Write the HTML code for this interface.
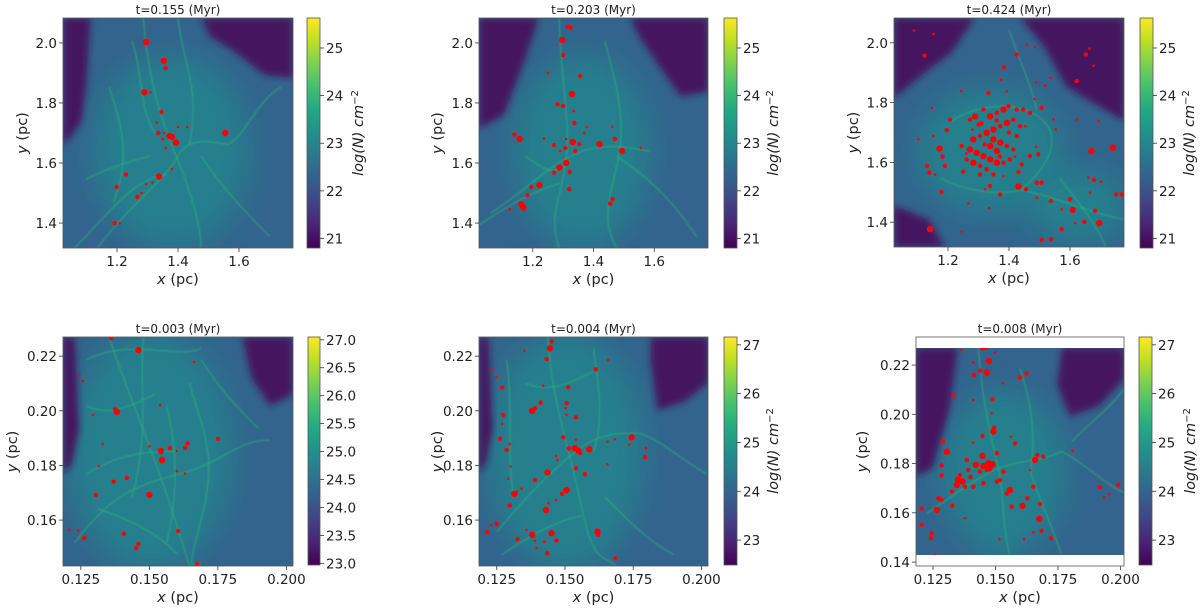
<!DOCTYPE html>
<html><head><meta charset="utf-8">
<style>
html,body{margin:0;padding:0;background:#fff;}
svg{display:block;font-family:"DejaVu Sans","Liberation Sans",sans-serif;}
</style></head>
<body>
<svg id="fig" width="1200" height="611" viewBox="0 0 1200 611" xmlns="http://www.w3.org/2000/svg">
<defs>
<linearGradient id="viridis" x1="0" y1="1" x2="0" y2="0">
<stop offset="0" stop-color="#440154"/><stop offset="0.1" stop-color="#482475"/><stop offset="0.2" stop-color="#414487"/><stop offset="0.3" stop-color="#355f8d"/><stop offset="0.4" stop-color="#2a788e"/><stop offset="0.5" stop-color="#21918c"/><stop offset="0.6" stop-color="#22a884"/><stop offset="0.7" stop-color="#44bf70"/><stop offset="0.8" stop-color="#7ad151"/><stop offset="0.9" stop-color="#bddf26"/><stop offset="1" stop-color="#fde725"/>
</linearGradient>
<filter id="blurBig" x="-30%" y="-30%" width="160%" height="160%"><feGaussianBlur stdDeviation="14"/></filter>
<filter id="blurMid" x="-30%" y="-30%" width="160%" height="160%"><feGaussianBlur stdDeviation="3.5"/></filter>
<filter id="blurSm"><feGaussianBlur stdDeviation="0.7"/></filter>
</defs>
</svg>
<script>
// ---------- DATA ----------
const p1XTicks=[1.2,1.4,1.6];
const p1YTicks=[1.4,1.6,1.8,2.0];
const p1CbTicks=[21,22,23,24,25];
const p1Dots=[[1.295,2.003,3],[1.353,1.94,3],[1.359,1.916,2],[1.29,1.836,3],[1.31,1.836,1],[1.346,1.77,2],[1.335,1.70,2],[1.38,1.687,3],[1.372,1.690,3],[1.393,1.668,3],[1.555,1.70,3],[1.23,1.562,2],[1.199,1.52,2],[1.267,1.487,2],[1.338,1.555,3],[1.295,1.53,1],[1.192,1.40,2],[1.36,1.65,1],[1.40,1.72,1],[1.43,1.72,1],[1.38,1.58,1],[1.316,1.535,1],[1.355,1.70,1],[1.35,1.68,1],[1.33,1.735,1],[1.28,1.50,1],[1.21,1.40,1]];
const p2Dots=[[1.316,2.054,2],[1.325,2.05,2],[1.297,2.01,3],[1.3,1.96,2],[1.356,1.89,2],[1.329,1.83,3],[1.3,1.79,2],[1.281,1.796,2],[1.335,1.773,1],[1.337,1.733,2],[1.378,1.72,1],[1.462,1.72,1],[1.14,1.695,2],[1.157,1.68,3],[1.237,1.682,1],[1.332,1.67,3],[1.353,1.663,2],[1.307,1.65,2],[1.27,1.66,2],[1.42,1.663,3],[1.47,1.68,2],[1.494,1.64,3],[1.556,1.65,1],[1.31,1.60,3],[1.288,1.585,3],[1.27,1.568,2],[1.322,1.57,2],[1.222,1.526,3],[1.195,1.52,2],[1.182,1.493,2],[1.162,1.463,3],[1.17,1.452,3],[1.463,1.48,2],[1.455,1.465,2],[1.32,1.513,2],[1.125,1.447,1],[1.29,1.64,1],[1.34,1.64,2],[1.31,1.68,1],[1.37,1.70,1],[1.25,1.90,1]];
const p3Dots=[[1.089,2.041,1],[1.152,2.029,1],[1.123,1.957,2],[1.425,1.961,2],[1.384,1.918,2],[1.458,1.994,1],[1.485,1.986,1],[1.664,1.981,1],[1.652,1.961,2],[1.677,1.923,1],[1.622,1.872,2],[1.374,1.877,1],[1.489,1.868,1],[1.518,1.857,1],[1.537,1.882,1],[1.332,1.832,2],[1.244,1.838,1],[1.393,1.838,1],[1.483,1.812,1],[1.147,1.782,1],[1.207,1.743,2],[1.196,1.708,2],[1.172,1.646,3],[1.182,1.619,2],[1.190,1.588,2],[1.132,1.588,2],[1.139,1.566,2],[1.158,1.560,1],[1.179,1.501,2],[1.103,1.677,1],[1.152,1.688,1],[1.272,1.743,2],[1.289,1.754,3],[1.300,1.727,2],[1.316,1.777,2],[1.338,1.754,3],[1.360,1.766,2],[1.382,1.777,3],[1.398,1.788,2],[1.425,1.777,2],[1.447,1.777,2],[1.469,1.766,2],[1.507,1.782,2],[1.283,1.677,3],[1.305,1.688,2],[1.327,1.699,3],[1.349,1.710,3],[1.371,1.721,2],[1.393,1.732,3],[1.414,1.743,2],[1.436,1.721,2],[1.453,1.721,1],[1.245,1.655,2],[1.272,1.643,3],[1.294,1.632,3],[1.316,1.621,3],[1.338,1.610,3],[1.360,1.599,3],[1.382,1.599,2],[1.403,1.610,2],[1.261,1.610,2],[1.283,1.599,3],[1.305,1.588,2],[1.327,1.577,2],[1.349,1.677,3],[1.371,1.666,3],[1.393,1.655,2],[1.414,1.643,2],[1.425,1.688,2],[1.360,1.638,3],[1.338,1.655,3],[1.305,1.560,2],[1.250,1.569,2],[1.349,1.560,2],[1.382,1.554,1],[1.431,1.568,2],[1.442,1.593,2],[1.469,1.621,2],[1.496,1.627,2],[1.546,1.743,1],[1.553,1.710,1],[1.489,1.652,1],[1.740,1.649,3],[1.670,1.638,3],[1.693,1.738,1],[1.622,1.743,1],[1.491,1.532,2],[1.507,1.532,2],[1.431,1.519,3],[1.456,1.510,2],[1.338,1.521,2],[1.322,1.510,1],[1.371,1.493,2],[1.491,1.482,1],[1.537,1.471,2],[1.600,1.477,2],[1.609,1.441,3],[1.573,1.443,1],[1.660,1.549,1],[1.679,1.541,2],[1.701,1.535,1],[1.666,1.499,1],[1.682,1.438,2],[1.696,1.397,3],[1.647,1.401,2],[1.617,1.397,1],[1.751,1.493,2],[1.770,1.493,2],[1.573,1.377,2],[1.538,1.343,2],[1.507,1.341,2],[1.141,1.377,3],[1.267,1.463,1],[1.335,1.447,1],[1.245,1.369,1],[1.31,1.73,2],[1.36,1.74,2],[1.40,1.70,2],[1.28,1.71,1],[1.32,1.66,2],[1.42,1.62,1],[1.26,1.63,1],[1.37,1.62,2]];
const p4XTicks=[0.125,0.150,0.175,0.200];
const p4YTicks=[0.16,0.18,0.20,0.22];
const p4CbTicks=[23.0,23.5,24.0,24.5,25.0,25.5,26.0,26.5,27.0];
const p4Dots=[[0.136,0.2266,2],[0.146,0.2222,3],[0.1382,0.1996,3],[0.1375,0.2005,2],[0.1542,0.1853,3],[0.1546,0.182,3],[0.150,0.187,1],[0.1575,0.1864,2],[0.160,0.1853,1],[0.163,0.1864,2],[0.164,0.188,2],[0.175,0.1897,2],[0.16,0.178,1],[0.163,0.177,1],[0.1418,0.1754,2],[0.137,0.174,2],[0.1305,0.1692,2],[0.15,0.1692,3],[0.1407,0.155,2],[0.146,0.1513,2],[0.1452,0.1497,2],[0.1605,0.156,2],[0.1262,0.1534,2],[0.1675,0.1439,2],[0.133,0.1878,1],[0.1316,0.1798,1],[0.1243,0.213,1],[0.1258,0.2109,1],[0.1663,0.2179,1],[0.1539,0.2021,1],[0.1295,0.1985,1],[0.1207,0.1565,1],[0.124,0.1561,1]];
const p5XTicks=[0.125,0.150,0.175,0.200];
const p5YTicks=[0.16,0.18,0.20,0.22];
const p5CbTicks=[23,24,25,26,27];
const p5Dots=[[0.1445,0.2229,3],[0.1451,0.2253,2],[0.1433,0.2189,2],[0.1351,0.2220,1],[0.1231,0.2150,1],[0.1250,0.2123,1],[0.1270,0.2085,2],[0.1420,0.2091,1],[0.1512,0.2086,2],[0.1613,0.2152,2],[0.1658,0.2186,1],[0.1411,0.2030,2],[0.1390,0.2009,2],[0.1380,0.2000,3],[0.1506,0.2028,2],[0.1502,0.2009,1],[0.1540,0.1976,2],[0.1506,0.1985,1],[0.1274,0.1985,2],[0.1270,0.1952,1],[0.1262,0.1898,2],[0.1298,0.1878,1],[0.1286,0.1857,2],[0.1494,0.1903,2],[0.1540,0.1893,1],[0.1536,0.1863,3],[0.1549,0.1854,3],[0.1514,0.1862,2],[0.1589,0.1859,3],[0.1555,0.1845,2],[0.1744,0.1903,3],[0.1735,0.1876,1],[0.1656,0.1887,1],[0.1683,0.1896,1],[0.1793,0.1830,2],[0.1796,0.1863,1],[0.1467,0.1835,1],[0.1472,0.1820,1],[0.1540,0.1790,2],[0.1573,0.1768,2],[0.1655,0.1804,1],[0.1436,0.1774,3],[0.1390,0.1747,2],[0.1292,0.1751,1],[0.1301,0.1796,1],[0.1506,0.1710,3],[0.1489,0.1696,2],[0.1467,0.1674,1],[0.1341,0.1715,1],[0.1323,0.1704,1],[0.1314,0.1696,3],[0.1298,0.1653,2],[0.1430,0.1637,3],[0.1439,0.1662,1],[0.1229,0.1582,1],[0.1250,0.1586,2],[0.1215,0.1556,2],[0.1326,0.1531,2],[0.1380,0.1546,3],[0.1451,0.1552,3],[0.1390,0.1524,1],[0.1425,0.1521,1],[0.1469,0.1525,2],[0.1396,0.1497,1],[0.1435,0.1479,2],[0.1619,0.1558,3],[0.1622,0.1546,2],[0.1685,0.1460,2],[0.1359,0.1564,1]];
const p6XTicks=[0.125,0.150,0.175,0.200];
const p6YTicks=[0.14,0.16,0.18,0.20,0.22];
const p6CbTicks=[23,24,25,26,27];
const p6Dots=[[0.1445,0.2268,2],[0.1461,0.2271,2],[0.1474,0.2216,3],[0.1465,0.2170,3],[0.1414,0.2160,2],[0.1438,0.2177,2],[0.1498,0.2252,1],[0.1365,0.2261,1],[0.1411,0.2210,1],[0.1598,0.2149,2],[0.1624,0.2166,2],[0.1531,0.2126,1],[0.1331,0.2078,2],[0.1411,0.2058,1],[0.1488,0.2061,2],[0.1484,0.2004,1],[0.1448,0.1912,2],[0.1491,0.1930,3],[0.1495,0.1946,2],[0.1562,0.1909,1],[0.1578,0.1882,2],[0.1411,0.1885,1],[0.1289,0.1889,2],[0.1305,0.1848,3],[0.1448,0.1831,3],[0.1471,0.1801,3],[0.1488,0.1797,3],[0.1451,0.1790,3],[0.1438,0.1767,2],[0.1505,0.1842,2],[0.1391,0.1774,2],[0.1358,0.1754,2],[0.1368,0.1727,3],[0.1345,0.1713,3],[0.1378,0.1706,2],[0.1325,0.1686,2],[0.1284,0.1792,2],[0.1284,0.1751,2],[0.1271,0.1659,2],[0.1284,0.1652,2],[0.1265,0.1612,3],[0.1205,0.1618,2],[0.1205,0.1551,2],[0.1245,0.1517,2],[0.1242,0.1497,2],[0.1258,0.1429,1],[0.1451,0.1720,2],[0.1505,0.1727,2],[0.1518,0.1733,2],[0.1558,0.1693,3],[0.1465,0.1774,2],[0.1411,0.1706,2],[0.1531,0.1767,2],[0.1565,0.1625,2],[0.1608,0.1628,3],[0.1627,0.1659,2],[0.1658,0.1815,3],[0.1667,0.1835,2],[0.1691,0.1828,2],[0.1638,0.1774,1],[0.1651,0.1706,2],[0.1678,0.1636,2],[0.1675,0.1575,3],[0.1684,0.1527,2],[0.1722,0.1497,2],[0.1651,0.1521,1],[0.1614,0.1493,1],[0.1515,0.1493,1],[0.1808,0.1851,1],[0.1918,0.1704,2],[0.1934,0.1662,1],[0.1955,0.1675,1],[0.1991,0.1713,2],[0.1545,0.1679,2],[0.1385,0.1815,2],[0.1327,0.1629,2],[0.1378,0.1578,1],[0.1421,0.1795,3],[0.1475,0.1780,3],[0.1400,0.1745,2],[0.1350,0.1735,3]];
const titles=["t=0.155 (Myr)","t=0.203 (Myr)","t=0.424 (Myr)","t=0.003 (Myr)","t=0.004 (Myr)","t=0.008 (Myr)"];

// ---------- LAYOUT (style only) ----------
const panels=[
 {id:"p1",L:63,T:18,W:230,H:230,x0:1.023,x1:1.777,y0:1.317,y1:2.083,dT:18,dB:248,xt:p1XTicks,yt:p1YTicks,xf:1,yf:1,cb:{L:307,T:18,W:13,H:230,v0:20.8,v1:25.63,ticks:p1CbTicks,f:0,lab:true,labX:356},dots:p1Dots,yLabX:22,
  dark:[[[0,0],[0.12,0],[0.1,0.3],[0.08,0.45],[0.03,0.52],[0,0.55]],[[0.6,0],[1,0],[1,0.26],[0.88,0.25],[0.75,0.15],[0.64,0.08]]],
  mid:[[0.47,0.58,0.34,0.42]],
  fil:["M0.35,0 C0.37,0.3 0.45,0.5 0.5,0.62 S0.6,0.9 0.6,1","M0.15,1 C0.3,0.8 0.45,0.7 0.5,0.6 S0.7,0.55 0.72,0.55","M0.72,0.55 C0.8,0.5 0.85,0.35 0.95,0.3","M0.2,0.3 C0.25,0.45 0.3,0.6 0.22,0.8","M0.5,0 C0.52,0.2 0.6,0.3 0.55,0.55","M0.05,1 C0.2,0.85 0.3,0.7 0.45,0.68","M0.6,0.6 C0.7,0.75 0.8,0.85 0.9,0.95","M0.3,0.1 C0.35,0.25 0.33,0.4 0.4,0.5","M0.1,0.7 C0.2,0.65 0.3,0.62 0.38,0.6"]},
 {id:"p2",L:479,T:18,W:229,H:230,x0:1.023,x1:1.777,y0:1.317,y1:2.083,dT:18,dB:248,xt:p1XTicks,yt:p1YTicks,xf:1,yf:1,cb:{L:724,T:18,W:13,H:230,v0:20.8,v1:25.63,ticks:p1CbTicks,f:0,lab:true,labX:771},dots:p2Dots,yLabX:437,
  dark:[[[0,0],[0.26,0],[0.2,0.18],[0.11,0.42],[0,0.48]],[[0.66,0],[1,0],[1,0.32],[0.88,0.34],[0.78,0.2],[0.7,0.08]]],
  mid:[[0.45,0.58,0.3,0.42]],
  fil:["M0.35,0 C0.36,0.3 0.4,0.45 0.38,0.62 S0.3,0.85 0.35,1","M0.05,0.85 C0.2,0.75 0.3,0.65 0.4,0.6 S0.6,0.55 0.75,0.58","M0.55,0.1 C0.6,0.3 0.65,0.45 0.6,0.65 S0.55,0.9 0.6,1","M0.0,0.9 C0.15,0.8 0.25,0.75 0.35,0.72","M0.6,0.6 C0.75,0.7 0.85,0.8 0.95,0.95","M0.2,0.6 C0.28,0.65 0.32,0.7 0.4,0.62"]},
 {id:"p3",L:894,T:18,W:230,H:229,x0:1.023,x1:1.777,y0:1.317,y1:2.083,dT:18,dB:247,xt:p1XTicks,yt:p1YTicks,xf:1,yf:1,cb:{L:1140,T:18,W:13,H:230,v0:20.8,v1:25.63,ticks:p1CbTicks,f:0,lab:true,labX:1187},dots:p3Dots,yLabX:853,
  dark:[[[0.55,0],[1,0],[1,0.45],[0.88,0.38],[0.75,0.3],[0.65,0.12]],[[0,0],[0.35,0],[0.25,0.15],[0.12,0.25],[0,0.35]],[[0,0.82],[0.15,0.88],[0.22,1],[0,1]]],
  mid:[[0.42,0.58,0.32,0.28],[0.8,0.82,0.22,0.16]],
  fil:["M0.25,0.45 C0.35,0.38 0.55,0.35 0.65,0.45 S0.62,0.7 0.55,0.75","M0.55,0.75 C0.7,0.78 0.85,0.85 1,0.88","M0.5,0.05 C0.55,0.2 0.6,0.3 0.62,0.4","M0.2,0.7 C0.3,0.75 0.45,0.78 0.55,0.75","M0.72,0.7 C0.8,0.8 0.88,0.9 0.92,1"]},
 {id:"p4",L:63,T:337,W:230,H:229,x0:0.1185,x1:0.2024,y0:0.1432,y1:0.227,dT:337,dB:566,xt:p4XTicks,yt:p4YTicks,xf:3,yf:2,cb:{L:308,T:337,W:12,H:228,v0:22.97,v1:27.05,ticks:p4CbTicks,f:1,lab:false},dots:p4Dots,yLabX:12,
  dark:[[[0.78,0],[1,0],[1,0.25],[0.9,0.3],[0.82,0.18]],[[0,0],[0.05,0],[0.07,0.4],[0.04,0.55],[0,0.6]]],
  mid:[[0.38,0.5,0.36,0.52]],
  fil:["M0.1,0.1 C0.3,0.0 0.5,0.1 0.6,0.05","M0.2,0 C0.3,0.3 0.4,0.5 0.55,1","M0.05,0.9 C0.2,0.7 0.3,0.65 0.5,0.6 S0.75,0.45 0.9,0.45","M0.35,0 C0.33,0.2 0.38,0.4 0.3,0.7","M0.55,0.2 C0.6,0.4 0.68,0.5 0.6,0.8 S0.58,0.95 0.6,1","M0.1,0.6 C0.25,0.5 0.4,0.5 0.5,0.5","M0.6,0.1 C0.7,0.25 0.75,0.3 0.85,0.4","M0.1,0.3 C0.2,0.35 0.3,0.3 0.4,0.25","M0.45,0.3 C0.5,0.5 0.5,0.7 0.45,0.9","M0.15,0.75 C0.3,0.8 0.4,0.85 0.5,0.95"]},
 {id:"p5",L:479,T:337,W:229,H:229,x0:0.1185,x1:0.2024,y0:0.1432,y1:0.227,dT:337,dB:566,xt:p5XTicks,yt:p5YTicks,xf:3,yf:2,cb:{L:724,T:337,W:13,H:228,v0:22.49,v1:27.16,ticks:p5CbTicks,f:0,lab:true,labX:771},dots:p5Dots,yLabX:437,
  dark:[[[0.75,0],[1,0],[1,0.2],[0.9,0.28],[0.78,0.32],[0.75,0.1]],[[0,0],[0.04,0],[0.06,0.4],[0.03,0.55],[0,0.6]]],
  mid:[[0.38,0.5,0.34,0.52]],
  fil:["M0.3,0 C0.32,0.3 0.4,0.5 0.45,0.75 S0.55,0.95 0.6,1","M0.08,0.85 C0.2,0.7 0.35,0.55 0.45,0.48 S0.65,0.42 0.7,0.42","M0.7,0.42 C0.8,0.45 0.9,0.55 1,0.6","M0.12,0.1 C0.15,0.3 0.12,0.5 0.15,0.7","M0.5,0.05 C0.52,0.2 0.55,0.35 0.5,0.5","M0.1,0.95 C0.25,0.85 0.35,0.8 0.45,0.78","M0.55,0.7 C0.65,0.8 0.75,0.9 0.85,0.95","M0.2,0.2 C0.3,0.25 0.4,0.2 0.5,0.15"]},
 {id:"p6",L:916,T:337,W:208,H:229,x0:0.1182,x1:0.2014,y0:0.1384,y1:0.2314,dT:348,dB:555,xt:p6XTicks,yt:p6YTicks,xf:3,yf:2,cb:{L:1139,T:337,W:13,H:228,v0:22.49,v1:27.16,ticks:p6CbTicks,f:0,lab:true,labX:1188},dots:p6Dots,yLabX:862,
  dark:[[[0,0],[0.2,0],[0.16,0.3],[0.08,0.58],[0,0.62]],[[0.7,0],[1,0],[1,0.15],[0.88,0.28],[0.74,0.33],[0.68,0.18]]],
  mid:[[0.42,0.6,0.3,0.4]],
  fil:["M0.3,0 C0.32,0.3 0.38,0.5 0.4,0.6 S0.42,0.9 0.45,1","M0.05,0.8 C0.2,0.7 0.3,0.62 0.4,0.58 S0.6,0.55 0.7,0.5","M0.7,0.5 C0.8,0.55 0.9,0.65 1,0.7","M0.5,0.1 C0.55,0.25 0.58,0.4 0.55,0.6","M0.55,0.6 C0.6,0.75 0.65,0.85 0.7,1","M0.75,0.45 C0.85,0.35 0.92,0.3 1,0.2"]}
];

// ---------- RENDER ----------
const NS="http://www.w3.org/2000/svg";
const svg=document.getElementById('fig');
function mk(tag,attrs,parent){const e=document.createElementNS(NS,tag);for(const k in attrs)e.setAttribute(k,attrs[k]);(parent||svg).appendChild(e);return e;}
function fmt(v,d){return v.toFixed(d);}

panels.forEach((p,i)=>{
  const g=mk('g',{});
  
  
  const sx=v=>p.L+(v-p.x0)/(p.x1-p.x0)*p.W;
  const sy=v=>p.T+p.H-(v-p.y0)/(p.y1-p.y0)*p.H;
  const fx=f=>p.L+f*p.W, fy=f=>p.dT+f*(p.dB-p.dT);
  const cp=mk('clipPath',{id:'clip'+p.id},g);
  mk('rect',{x:p.L,y:p.dT,width:p.W,height:p.dB-p.dT},cp);
  const map=mk('g',{'clip-path':'url(#clip'+p.id+')'},g);
  
  
  mk('rect',{x:p.L,y:p.dT,width:p.W,height:p.dB-p.dT,fill:'#33648d'},map);
  p.mid.forEach(m=>{mk('ellipse',{cx:fx(m[0]),cy:fy(m[1]),rx:m[2]*p.W,ry:m[3]*(p.dB-p.dT),fill:'#23868d',opacity:0.8,filter:'url(#blurBig)'},map);});
  p.dark.forEach(poly=>{
    const pts=poly.map(q=>fx(q[0])+','+fy(q[1])).join(' ');
    mk('polygon',{points:pts,fill:'#44135f',filter:'url(#blurMid)'},map);
  });
  p.fil.forEach(d=>{
    const dd=d.replace(/([\d.]+),([\d.]+)/g,(s,a,b)=>fx(+a).toFixed(1)+','+fy(+b).toFixed(1));
    mk('path',{d:dd,fill:'none',stroke:'#2fb47c',"stroke-width":1.4,opacity:0.6,filter:'url(#blurSm)'},map);
  });
  p.dots.forEach(dt=>{
    const c=mk('circle',{cx:sx(dt[0]).toFixed(1),cy:sy(dt[1]).toFixed(1),r:[0,1.3,2.2,3.2][dt[2]],fill:'#ff0000'},map);
    
    
  });
  const fr=mk('rect',{x:p.L,y:p.T,width:p.W,height:p.H,fill:'none',stroke:'#555','stroke-width':0.8},g);
  
  
  p.xt.forEach(v=>{
    const x=sx(v);
    mk('line',{x1:x,x2:x,y1:p.T+p.H,y2:p.T+p.H+4,stroke:'#333','stroke-width':0.8},g);
    const t=mk('text',{x:x,y:p.T+p.H+18,'text-anchor':'middle','font-size':13.5,fill:'#222'},g);
    
    
    t.textContent=fmt(v,p.xf);
  });
  p.yt.forEach(v=>{
    const y=sy(v);
    mk('line',{x1:p.L-4,x2:p.L,y1:y,y2:y,stroke:'#333','stroke-width':0.8},g);
    const t=mk('text',{x:p.L-6,y:y+5,'text-anchor':'end','font-size':13.5,fill:'#222'},g);
    
    
    t.textContent=fmt(v,p.yf);
  });
  const tt=mk('text',{x:p.L+p.W/2,y:p.T-4,'text-anchor':'middle','font-size':12,fill:'#222'},g);
  
  
  tt.textContent=titles[i];
  const xl=mk('text',{x:p.L+p.W/2,y:p.T+p.H+36,'text-anchor':'middle','font-size':14.5,fill:'#222'},g);
  
  
  xl.innerHTML='<tspan font-style="italic">x</tspan> (pc)';
  const ly=p.T+p.H/2, lx=p.yLabX+5;
  const yl=mk('text',{x:lx,y:ly,'text-anchor':'middle','font-size':14.5,fill:'#222',transform:'rotate(-90 '+lx+' '+ly+')'},g);
  
  
  yl.innerHTML='<tspan font-style="italic">y</tspan> (pc)';
  const cb=p.cb;
  const cr=mk('rect',{x:cb.L,y:cb.T,width:cb.W,height:cb.H,fill:'url(#viridis)',stroke:'#555','stroke-width':0.8},g);
  
  
  const cy=v=>cb.T+cb.H-(v-cb.v0)/(cb.v1-cb.v0)*cb.H;
  cb.ticks.forEach(v=>{
    const y=cy(v);
    mk('line',{x1:cb.L+cb.W,x2:cb.L+cb.W+4,y1:y,y2:y,stroke:'#333','stroke-width':0.8},g);
    const t=mk('text',{x:cb.L+cb.W+6,y:y+5,'font-size':13.5,fill:'#222'},g);
    
    
    t.textContent=fmt(v,cb.f);
  });
  if(cb.lab){
    const cx=cb.labX+7, cyy=cb.T+cb.H/2;
    const t=mk('text',{x:cx,y:cyy,'text-anchor':'middle','font-size':14.5,fill:'#222',transform:'rotate(-90 '+cx+' '+cyy+')'},g);
    
    
    t.innerHTML='<tspan font-style="italic">log(N) cm</tspan><tspan font-size="10" dy="-5">−2</tspan>';
  }
});
</script>
</body></html>
